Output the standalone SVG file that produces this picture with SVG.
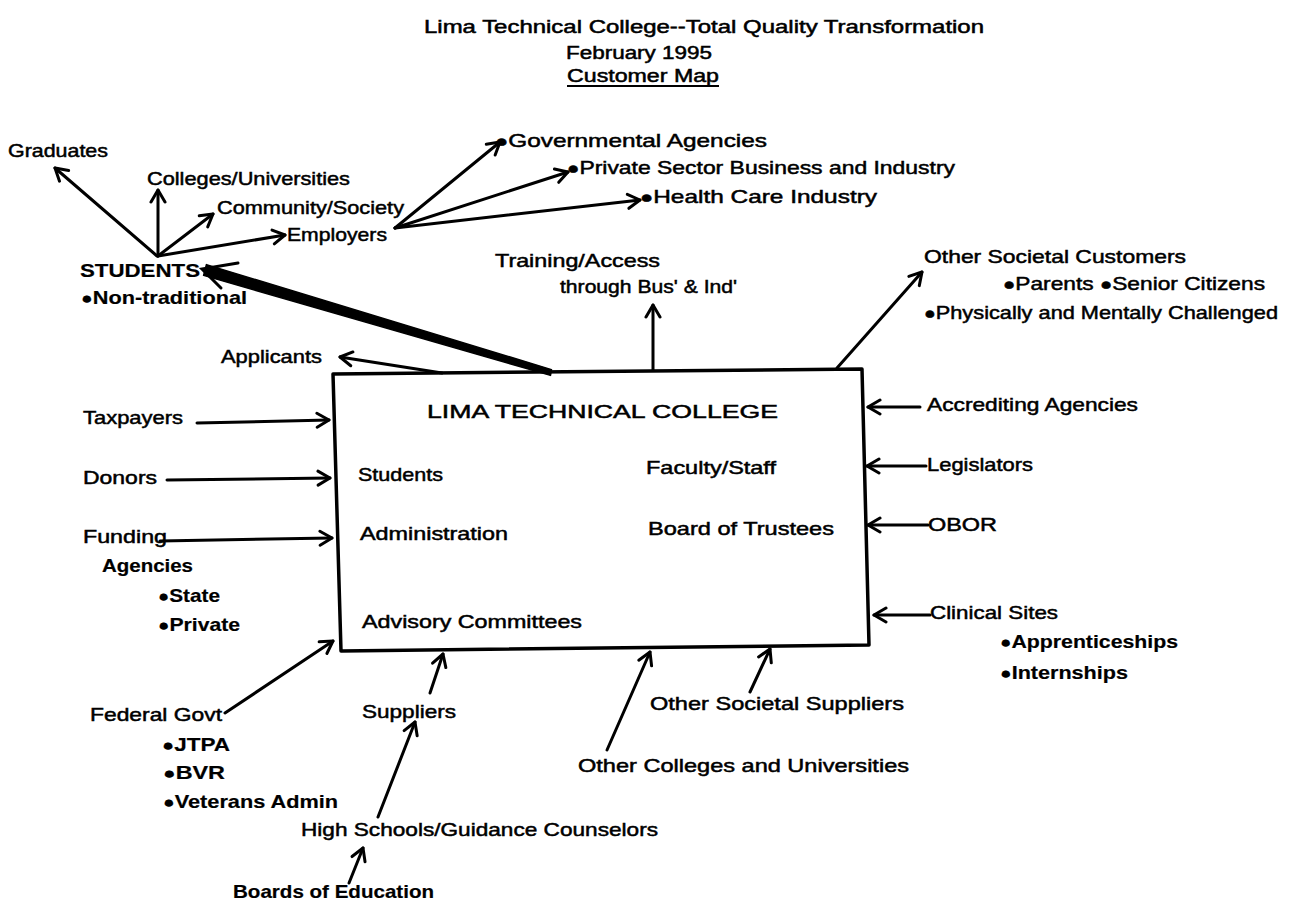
<svg xmlns="http://www.w3.org/2000/svg" width="1297" height="908" viewBox="0 0 1297 908">
<style>
text{font-family:"Liberation Sans",Arial,sans-serif;font-size:19px;fill:#000;stroke:#000;stroke-width:0.5px}
.b{font-weight:bold;stroke-width:0.2px}
.ttl{font-size:18px}
.bu{font-size:17px}
.c{fill:none;stroke:#000;stroke-width:3;stroke-linecap:round}
</style>
<defs>
<marker id="ah" markerUnits="userSpaceOnUse" markerWidth="20" markerHeight="20" refX="15" refY="9" orient="auto">
<path d="M3,2 L15,9 L3,16" fill="none" stroke="#000" stroke-width="3" stroke-linecap="round" stroke-linejoin="round"/>
</marker>
</defs>
<rect width="1297" height="908" fill="#fff"/>

<g id="title">
<text class="ttl" x="424" y="33" textLength="560" lengthAdjust="spacingAndGlyphs">Lima Technical College--Total Quality Transformation</text>
<text class="ttl" x="566" y="59" textLength="146" lengthAdjust="spacingAndGlyphs">February 1995</text>
<text class="ttl" x="567" y="82" textLength="152" lengthAdjust="spacingAndGlyphs">Customer Map</text>
<line x1="567" y1="86" x2="719" y2="86" stroke="#000" stroke-width="1.8"/>
</g>

<g id="college">
<polygon points="333,374 862,369 869,645 341,651" fill="#fff" stroke="#000" stroke-width="3.5" stroke-linejoin="round"/>
<text x="427" y="418" textLength="351" lengthAdjust="spacingAndGlyphs">LIMA TECHNICAL COLLEGE</text>
<text x="358" y="481" textLength="85" lengthAdjust="spacingAndGlyphs">Students</text>
<text x="646" y="474" textLength="130" lengthAdjust="spacingAndGlyphs">Faculty/Staff</text>
<text x="360" y="540" textLength="148" lengthAdjust="spacingAndGlyphs">Administration</text>
<text x="648" y="535" textLength="186" lengthAdjust="spacingAndGlyphs">Board of Trustees</text>
<text x="362" y="628" textLength="220" lengthAdjust="spacingAndGlyphs">Advisory Committees</text>
</g>

<g id="students"><text class="b" x="80" y="277" textLength="120" lengthAdjust="spacingAndGlyphs">STUDENTS</text>
<text class="b" x="81" y="304" textLength="166" lengthAdjust="spacingAndGlyphs"><tspan class="bu">●</tspan>Non-traditional</text></g>
<g id="graduates"><text x="8" y="157" textLength="100" lengthAdjust="spacingAndGlyphs">Graduates</text></g>
<g id="colleges-universities"><text x="147" y="185" textLength="203" lengthAdjust="spacingAndGlyphs">Colleges/Universities</text></g>
<g id="community-society"><text x="217" y="214" textLength="187" lengthAdjust="spacingAndGlyphs">Community/Society</text></g>
<g id="employers"><text x="287" y="241" textLength="100" lengthAdjust="spacingAndGlyphs">Employers</text></g>
<g id="governmental"><text x="495" y="147" textLength="272" lengthAdjust="spacingAndGlyphs"><tspan class="bu">●</tspan>Governmental Agencies</text></g>
<g id="private-sector"><text x="567" y="174" textLength="388" lengthAdjust="spacingAndGlyphs"><tspan class="bu">●</tspan>Private Sector Business and Industry</text></g>
<g id="health-care"><text x="640" y="203" textLength="237" lengthAdjust="spacingAndGlyphs"><tspan class="bu">●</tspan>Health Care Industry</text></g>
<g id="training"><text x="495" y="267" textLength="165" lengthAdjust="spacingAndGlyphs">Training/Access</text>
<text x="560" y="293" textLength="177" lengthAdjust="spacingAndGlyphs">through Bus' &amp; Ind'</text></g>
<g id="other-societal-customers"><text x="924" y="263" textLength="262" lengthAdjust="spacingAndGlyphs">Other Societal Customers</text>
<text x="1003" y="290" textLength="262" lengthAdjust="spacingAndGlyphs"><tspan class="bu">●</tspan>Parents <tspan class="bu">●</tspan>Senior Citizens</text>
<text x="924" y="319" textLength="354" lengthAdjust="spacingAndGlyphs"><tspan class="bu">●</tspan>Physically and Mentally Challenged</text></g>
<g id="applicants"><text x="221" y="363" textLength="101" lengthAdjust="spacingAndGlyphs">Applicants</text></g>
<g id="taxpayers"><text x="83" y="424" textLength="100" lengthAdjust="spacingAndGlyphs">Taxpayers</text></g>
<g id="donors"><text x="83" y="484" textLength="74" lengthAdjust="spacingAndGlyphs">Donors</text></g>
<g id="funding-agencies"><text x="83" y="543" textLength="84" lengthAdjust="spacingAndGlyphs">Funding</text>
<text class="b" x="102" y="572" textLength="91" lengthAdjust="spacingAndGlyphs">Agencies</text>
<text class="b" x="158" y="602" textLength="62" lengthAdjust="spacingAndGlyphs"><tspan class="bu">●</tspan>State</text>
<text class="b" x="158" y="631" textLength="82" lengthAdjust="spacingAndGlyphs"><tspan class="bu">●</tspan>Private</text></g>
<g id="accrediting"><text x="927" y="411" textLength="211" lengthAdjust="spacingAndGlyphs">Accrediting Agencies</text></g>
<g id="legislators"><text x="927" y="471" textLength="106" lengthAdjust="spacingAndGlyphs">Legislators</text></g>
<g id="obor"><text x="928" y="531" textLength="69" lengthAdjust="spacingAndGlyphs">OBOR</text></g>
<g id="clinical-sites"><text x="930" y="619" textLength="128" lengthAdjust="spacingAndGlyphs">Clinical Sites</text>
<text class="b" x="1000" y="648" textLength="178" lengthAdjust="spacingAndGlyphs"><tspan class="bu">●</tspan>Apprenticeships</text>
<text class="b" x="1000" y="679" textLength="128" lengthAdjust="spacingAndGlyphs"><tspan class="bu">●</tspan>Internships</text></g>
<g id="federal-govt"><text x="90" y="721" textLength="132" lengthAdjust="spacingAndGlyphs">Federal Govt</text>
<text class="b" x="162" y="751" textLength="68" lengthAdjust="spacingAndGlyphs"><tspan class="bu">●</tspan>JTPA</text>
<text class="b" x="163" y="779" textLength="62" lengthAdjust="spacingAndGlyphs"><tspan class="bu">●</tspan>BVR</text>
<text class="b" x="163" y="808" textLength="175" lengthAdjust="spacingAndGlyphs"><tspan class="bu">●</tspan>Veterans Admin</text></g>
<g id="suppliers"><text x="362" y="718" textLength="94" lengthAdjust="spacingAndGlyphs">Suppliers</text></g>
<g id="high-schools"><text x="301" y="836" textLength="357" lengthAdjust="spacingAndGlyphs">High Schools/Guidance Counselors</text></g>
<g id="boards-of-education"><text class="b" x="233" y="898" textLength="201" lengthAdjust="spacingAndGlyphs">Boards of Education</text></g>
<g id="other-societal-suppliers"><text x="650" y="710" textLength="254" lengthAdjust="spacingAndGlyphs">Other Societal Suppliers</text></g>
<g id="other-colleges"><text x="578" y="772" textLength="331" lengthAdjust="spacingAndGlyphs">Other Colleges and Universities</text></g>

<g id="connectors">
<polygon points="551.5,369.6 206.4,264.6 203.6,275.4 550.5,375.4" fill="#000" stroke="#000" stroke-width="1.5" stroke-linejoin="round"/>
<path class="c" d="M238,263 L202,269 L221,288"/>
<line class="c" x1="157" y1="256" x2="55" y2="168" marker-end="url(#ah)"/>
<line class="c" x1="158" y1="256" x2="158" y2="190" marker-end="url(#ah)"/>
<line class="c" x1="158" y1="256" x2="213" y2="214" marker-end="url(#ah)"/>
<line class="c" x1="158" y1="256" x2="285" y2="235" marker-end="url(#ah)"/>
<line class="c" x1="442" y1="373" x2="340" y2="357" marker-end="url(#ah)"/>
<line class="c" x1="395" y1="228" x2="500" y2="142" marker-end="url(#ah)"/>
<line class="c" x1="395" y1="228" x2="568" y2="172" marker-end="url(#ah)"/>
<line class="c" x1="395" y1="228" x2="640" y2="200" marker-end="url(#ah)"/>
<line class="c" x1="653" y1="370" x2="653" y2="305" marker-end="url(#ah)"/>
<line class="c" x1="837" y1="368" x2="922" y2="272" marker-end="url(#ah)"/>
<line class="c" x1="197" y1="423" x2="329" y2="420" marker-end="url(#ah)"/>
<line class="c" x1="167" y1="480" x2="330" y2="478" marker-end="url(#ah)"/>
<line class="c" x1="160" y1="541" x2="332" y2="538" marker-end="url(#ah)"/>
<line class="c" x1="225" y1="713" x2="333" y2="641" marker-end="url(#ah)"/>
<line class="c" x1="430" y1="693" x2="443" y2="654" marker-end="url(#ah)"/>
<line class="c" x1="378" y1="817" x2="415" y2="722" marker-end="url(#ah)"/>
<line class="c" x1="349" y1="883" x2="363" y2="848" marker-end="url(#ah)"/>
<line class="c" x1="607" y1="750" x2="650" y2="652" marker-end="url(#ah)"/>
<line class="c" x1="750" y1="692" x2="770" y2="649" marker-end="url(#ah)"/>
<line class="c" x1="920" y1="407" x2="868" y2="407" marker-end="url(#ah)"/>
<line class="c" x1="926" y1="466" x2="867" y2="466" marker-end="url(#ah)"/>
<line class="c" x1="928" y1="525" x2="868" y2="525" marker-end="url(#ah)"/>
<line class="c" x1="930" y1="615" x2="874" y2="615" marker-end="url(#ah)"/>
</g>
</svg>
